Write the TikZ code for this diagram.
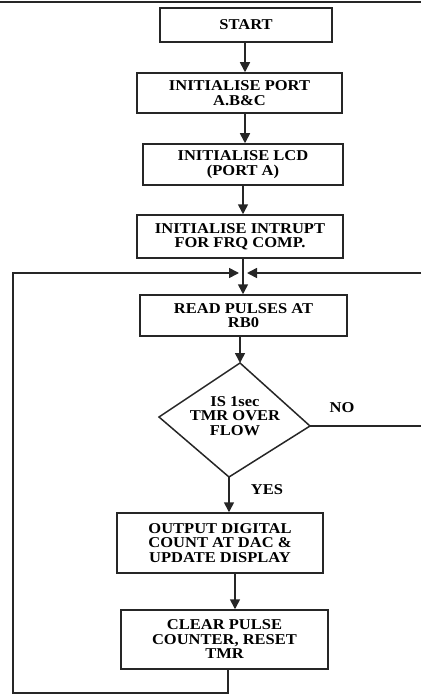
\documentclass[tikz,border=0pt]{standalone}
\usepackage{fontspec}
\setmainfont[FakeStretch=1.1]{Liberation Serif}
\usetikzlibrary{arrows.meta}
\tikzset{
  box/.style={draw=black!85, line width=1.5pt, fill=white, inner sep=0pt, align=center,
    font=\bfseries\fontsize{15}{14.5}\selectfont},
  lbl/.style={inner sep=0pt, font=\bfseries\fontsize{15}{14.5}\selectfont},
  conn/.style={draw=black!85, line width=1.6pt},
  arr/.style={conn, -{Triangle[length=10pt,width=10pt]}},
}
\begin{document}
\begin{tikzpicture}[x=1pt,y=-1pt]
\useasboundingbox (0,0) rectangle (421,695);
\coordinate (tl) at (0,2);
\coordinate (tr) at (421,2);
\draw[draw=black!85, line width=2pt] (tl) -- (tr);

\node[box, minimum width=172pt, minimum height=34pt] (start) at (246,25) {START};
\node[box, minimum width=205pt, minimum height=40pt] (port) at (239.5,93) {INITIALISE PORT\\A.B\&C};
\node[box, minimum width=200pt, minimum height=41pt] (lcd) at (243,164.5) {INITIALISE LCD\\(PORT A)};
\node[box, minimum width=206pt, minimum height=43pt] (intr) at (240,236.5) {INITIALISE INTRUPT\\FOR FRQ COMP.};
\node[box, minimum width=207pt, minimum height=41pt] (read) at (243.5,315.5) {READ PULSES AT\\RB0};
\node[box, minimum width=206pt, minimum height=60pt] (out) at (220,543) {OUTPUT DIGITAL\\COUNT AT DAC \&\\UPDATE DISPLAY};
\node[box, minimum width=207pt, minimum height=59pt] (clear) at (224.5,639.5) {CLEAR PULSE\\COUNTER, RESET\\TMR};

% decision diamond
\coordinate (dT) at (240,363);
\coordinate (dR) at (310,426);
\coordinate (dB) at (229,477);
\coordinate (dL) at (159,417);
\draw[conn, line width=1.5pt, fill=white] (dT) -- (dR) -- (dB) -- (dL) -- cycle;
\node[lbl, align=center] (dtext) at (235,416) {IS 1sec\\TMR OVER\\FLOW};

\node[lbl] (no) at (342,408) {NO};
\node[lbl] (yes) at (267,490) {YES};

% junction and loop coordinates
\coordinate (x1) at (245,0);
\coordinate (x2) at (243,0);
\coordinate (x3) at (235,0);
\coordinate (j) at (243,273);
\coordinate (cb) at (228,693);
\coordinate (lb) at (13,693);
\coordinate (lt) at (13,273);
\coordinate (rt) at (421,273);
\coordinate (rn) at (421,426);

\draw[arr] (start.south -| x1) -- (x1 |- port.north);
\draw[arr] (port.south -| x1) -- (x1 |- lcd.north);
\draw[arr] (lcd.south -| x2) -- (x2 |- intr.north);
\draw[conn] (intr.south -| j) -- (j);
\draw[arr] (j) -- (j |- read.north);
\draw[arr] (read.south -| dT) -- (dT);
\draw[arr] (dB) -- (dB |- out.north);
\draw[arr] (out.south -| x3) -- (x3 |- clear.north);
\draw[conn] (dR) -- (rn);
\draw[arr] (rt) -- ([xshift=4pt]j);
\draw[arr] (clear.south -| cb) -- (cb) -- (lb) -- (lt) -- ([xshift=-4pt]j);
\end{tikzpicture}
\end{document}
